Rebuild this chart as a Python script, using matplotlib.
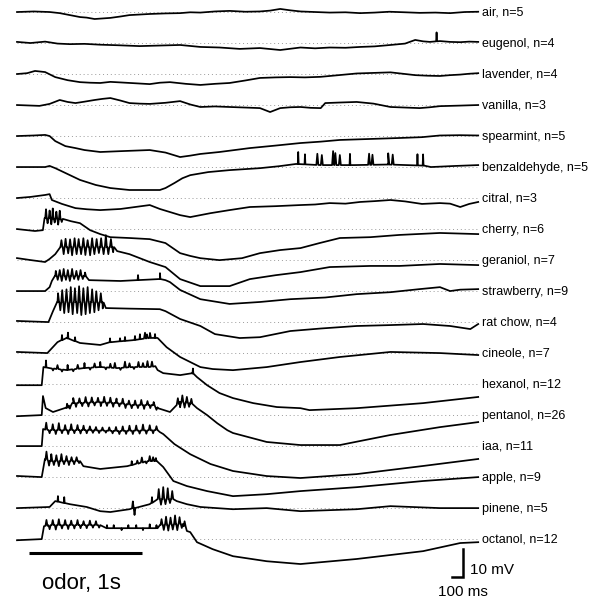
import numpy as np
import matplotlib
matplotlib.use('Agg')
import matplotlib.pyplot as plt

plt.rcParams['font.family'] = ['Liberation Sans', 'DejaVu Sans']

# odors, top to bottom, and number of cells averaged for each
odors = ['air', 'eugenol', 'lavender', 'vanilla', 'spearmint', 'benzaldehyde',
         'citral', 'cherry', 'geraniol', 'strawberry', 'rat chow', 'cineole',
         'hexanol', 'pentanol', 'iaa', 'apple', 'pinene', 'octanol']
n_cells = [5, 4, 4, 3, 5, 5, 3, 6, 7, 9, 4, 7, 12, 26, 11, 9, 5, 12]

# slow potential of each averaged trace: time (ms) and mV from rest
air_t = [0, 150, 290, 380, 470, 560, 620, 690, 760, 830, 920, 1000, 1090, 1180, 1320, 1450, 1540, 1630, 1760,
         1890, 2030, 2160, 2250, 2340, 2430, 2520, 2650, 2780, 2920, 3050, 3180, 3310, 3450, 3580, 3720, 3850, 3980, 4100]
air_v = [0, 0.2, 0, -0.4, -1.1, -1.8, -2.0, -2.5, -2.3, -2.1, -1.6, -1.1, -0.9, -0.7, -0.5, -0.4, -0.1, -0.2, 0.2,
         0.4, 0.1, 0.2, 0.5, 1.1, 0.6, 0.2, 0.0, -0.2, -0.1, -0.4, -0.2, 0.1, -0.1, -0.3, -0.2, -0.4, 0.0, 0.1]

eugenol_t = [0, 120, 250, 360, 470, 600, 740, 900, 1090, 1270, 1450, 1630, 1800, 1980, 2160, 2340, 2520, 2650,
             2780, 2920, 3050, 3180, 3320, 3450, 3540, 3610, 3670, 3760, 3850, 3940, 4020, 4100]
eugenol_v = [0.4, 0, 0.5, -0.2, -0.4, -0.3, -0.6, -0.8, -1.1, -0.9, -0.7, -1.4, -1.6, -2.1, -1.8, -2.5, -1.6, -1.9,
             -1.6, -1.7, -1.4, -1.2, -0.7, -0.2, 1.1, 0.6, 0.4, 0.7, 0.4, 0.3, 0.5, 0.4]

lavender_t = [0, 90, 160, 250, 340, 450, 560, 650, 740, 830, 920, 1050, 1180, 1270, 1360, 1500, 1630, 1760, 1890,
              2030, 2160, 2300, 2430, 2560, 2700, 2860, 3020, 3170, 3320, 3430, 3540, 3650, 3760, 3850, 3940, 4020, 4100]
lavender_v = [0, 0.3, 1.1, 0.7, -1.1, -2.2, -2.9, -3.1, -3.2, -2.8, -3.0, -3.3, -3.6, -3.1, -2.9, -3.5, -3.9, -3.5,
              -3.2, -2.3, -1.4, -1.2, -1.1, -1.2, -1.0, -0.4, 0.2, 0.4, 0.6, 0.1, -0.4, -0.6, -0.7, -0.4, -0.2, 0.1, 0.3]

vanilla_t = [0, 200, 290, 380, 450, 520, 600, 690, 760, 830, 920, 1000, 1090, 1180, 1320, 1450, 1540, 1630, 1760,
             1890, 2030, 2160, 2250, 2340, 2430, 2520, 2610, 2700, 2740, 2870, 3020, 3170, 3320, 3450, 3580, 3670,
             3760, 3940, 4100]
vanilla_v = [0, -0.3, 0.4, 1.8, 1.1, 0.7, 1.2, 1.8, 2.2, 2.5, 1.6, 0.7, 0.5, 0.4, 0.8, 1.4, 0.2, -0.7, -0.5,
             -0.7, -0.9, -1.1, -2.5, -1.1, -0.8, -0.7, -1.0, -1.1, 0.7, 0.9, 1.1, 0.5, -0.7, -0.9, -1.1, -0.8,
             -0.4, -0.2, 0]

spearmint_t = [0, 150, 250, 290, 340, 430, 520, 600, 740, 920, 1050, 1180, 1320, 1450, 1540, 1630, 1800, 2070,
               2300, 2520, 2700, 2870, 3100, 3400, 3600, 3760, 3940, 4100]
spearmint_v = [0, 0.2, 0.4, 0, -1.8, -3.6, -4.3, -5, -5.7, -5.4, -5.2, -5, -5.9, -7.5, -7.0, -6.4, -5.7, -4.3,
               -3.4, -2.5, -2.0, -1.4, -1.1, -0.7, -0.4, 0.2, 0.3, 0.2]

benzaldehyde_t = [0, 250, 290, 340, 450, 560, 700, 830, 1000, 1130, 1270, 1320, 1400, 1470, 1540, 1700, 1890,
                  2160, 2330, 2480, 2700, 3000, 3300, 3620, 3680, 3900, 4100]
benzaldehyde_v = [0, 0, 0.4, -0.4, -2.5, -4.6, -6.4, -7.5, -8.2, -8.2, -8.2, -7.5, -5.7, -4.0, -2.9, -1.8, -1.1,
                  -0.4, 0.3, 1.1, 0.7, 0.7, 0.9, 0.5, 0.0, 0.4, 0.7]

citral_t = [0, 120, 250, 290, 310, 400, 520, 620, 740, 830, 920, 1050, 1180, 1270, 1360, 1450, 1540, 1720, 1890,
            2070, 2300, 2520, 2650, 2780, 2920, 3050, 3180, 3320, 3450, 3600, 3760, 3850, 3940, 4020, 4100]
citral_v = [0, 0.4, 1.1, 1.4, -0.7, -2.1, -3.6, -4.0, -4.3, -4.1, -3.9, -3.2, -2.5, -3.9, -5, -6.1, -6.8, -5.4,
            -4.3, -3.2, -2.9, -2.5, -2.3, -1.8, -2.0, -1.4, -1.1, -0.7, -1.2, -2.1, -1.8, -2.0, -3.2, -2.1, -1.4]

cherry_t = [0, 160, 230, 245, 410, 480, 560, 650, 740, 830, 1000, 1180, 1320, 1450, 1540, 1630, 1800, 2000, 2160,
            2340, 2520, 2690, 2870, 3140, 3400, 3760, 4100]
cherry_v = [0, -0.7, -0.4, 3.9, 3.6, 2.8, 2.1, -0.4, -1.8, -2.9, -3.2, -3.6, -5, -8.6, -9.6, -10.4, -11.1, -10.4,
            -8.6, -7.5, -6.8, -5, -3.2, -2.9, -2.1, -1.4, -1.8]

geraniol_t = [0, 120, 250, 290, 340, 385, 600, 860, 890, 1000, 1180, 1320, 1450, 1630, 1890, 2070, 2300, 2520,
              2780, 3140, 3400, 3760, 4100]
geraniol_v = [0.7, 0, -0.7, 0.4, 2.1, 4.6, 4.6, 4.6, 3.2, 2.1, -0.7, -2.5, -6.8, -9.3, -9.3, -6.8, -5.4, -4.3,
              -2.5, -2.1, -2.1, -1.4, -1.8]

strawberry_t = [0, 250, 290, 310, 340, 600, 640, 920, 1270, 1320, 1360, 1450, 1630, 1890, 2160, 2430, 2740, 3020,
                3320, 3580, 3760, 3850, 3940, 4100]
strawberry_v = [0, 0, 1.4, 3.6, 5.4, 5.4, 3.9, 3.6, 4.3, 3.9, 3.2, 0.4, -2.9, -4.6, -3.9, -2.9, -2.3, -1.1,
                -0.4, 0.7, 1.4, 0, 0.5, 0.7]

ratchow_t = [0, 280, 320, 360, 760, 790, 1000, 1270, 1320, 1450, 1630, 1760, 1980, 2160, 2430, 2700, 3020, 3300,
             3610, 3850, 4030, 4100]
ratchow_v = [0.4, 0, 3.9, 7.1, 7.1, 5, 4.8, 4.6, 3.9, 1.1, -1.4, -4.3, -5.7, -5.4, -3.2, -2.3, -1.4, -1.1,
             -0.7, -1.4, -2.5, -0.7]

cineole_t = [0, 270, 360, 440, 560, 740, 830, 1030, 1180, 1250, 1330, 1450, 1630, 1740, 1920, 2220, 2520, 2870,
             3320, 3760, 4100]
cineole_v = [0.4, 0, 3.9, 5.4, 3.6, 2.9, 3.9, 4.6, 5.4, 5.4, 2.1, -1.4, -5, -5.7, -6.1, -5, -3.2, -1.4, 0.4, 0, -0.7]

hexanol_t = [0, 220, 235, 290, 440, 590, 740, 890, 1030, 1180, 1230, 1250, 1300, 1450, 1560, 1600, 1690, 1800,
             1920, 2100, 2310, 2520, 2600, 3020, 3610, 4100]
hexanol_v = [-0.4, -0.4, 6.1, 5.7, 5, 5.7, 6.1, 5.7, 6.1, 6.1, 6.4, 5, 3.9, 3.2, 3.9, 2.5, -0.4, -3.2, -5, -6.8,
             -8.2, -8.6, -9.3, -8.6, -6.8, -4.6]

pentanol_t = [0, 220, 231, 255, 320, 440, 500, 740, 890, 1030, 1210, 1250, 1360, 1420, 1450, 1540, 1600, 1690,
              1780, 1870, 1920, 2220, 2520, 2870, 3320, 3760, 4100]
pentanol_v = [-0.4, 0, 6.8, 2.5, 1.1, 2.5, 4.3, 4.6, 4.3, 3.6, 3.6, 2.5, 1.1, 3.6, 4.6, 4.3, 2.5, 0, -2.9, -5.4,
              -6.4, -9.6, -10.7, -10.7, -7.1, -4.3, -2.5]

iaa_t = [0, 220, 232, 280, 600, 900, 1250, 1270, 1300, 1400, 1540, 1720, 1920, 2220, 2520, 3020, 3610, 4100]
iaa_v = [0, 0, 6.1, 5.7, 5.7, 5.4, 5.7, 5, 4.3, 0.7, -2.9, -6.4, -8.9, -10.7, -11.4, -10, -7.1, -4.6]

apple_t = [0, 220, 248, 300, 560, 590, 740, 980, 1160, 1240, 1300, 1390, 1510, 1690, 1920, 2220, 2520, 3020,
           3610, 4100]
apple_v = [0.4, 0, 6.4, 5.7, 5.7, 3.9, 2.9, 3.9, 5.7, 5.7, 3.6, -1.4, -3.2, -5, -6.8, -6.1, -5, -3.6, -1.4, 0]

pinene_t = [0, 290, 340, 470, 620, 740, 830, 1000, 1180, 1250, 1390, 1420, 1510, 1630, 1920, 2220, 2520, 3020,
            3320, 3760, 4100]
pinene_v = [0, 0.4, 2.5, 1.4, 0.4, -1.1, -1.4, -0.4, 1.4, 3.2, 3.2, 2.5, 1.4, 0.4, -0.4, 0, -1.1, -0.4, 0.7, 0, 0]

octanol_t = [0, 220, 240, 300, 740, 800, 1250, 1270, 1480, 1510, 1540, 1600, 1740, 1920, 2220, 2520, 3020, 3610,
             3940, 4100]
octanol_v = [-0.4, 0, 4.6, 5, 5, 3.9, 3.9, 5, 5.4, 2.9, 2.5, -1.1, -3.6, -6.1, -7.9, -8.9, -7.1, -4.3, -1.4, -1.1]

# fast events riding on the slow potential: time (ms) and height (mV)
eugenol_spk_t = [3730]
eugenol_spk_a = [3.2]

benzaldehyde_spk_t = [2500, 2560, 2670, 2710, 2810, 2830, 2870, 2960, 3130, 3160, 3300, 3340, 3560, 3610]
benzaldehyde_spk_a = [4.3, 3.6, 4.0, 3.6, 5.0, 4.3, 3.6, 4.0, 4.0, 3.6, 4.0, 3.6, 4.0, 4.0]

cherry_spk_t = [258, 272, 290, 305, 318, 335, 350, 366, 380, 398]
cherry_spk_a = [3.2, -1.8, 2.8, -2.1, 3.6, -1.4, 2.5, -2.1, 2.9, -1.1]

geraniol_spk_t = [395, 415, 432, 455, 472, 490, 512, 530, 548, 570, 590, 608, 628, 650, 668, 688, 708, 728, 748,
                  770, 790, 812, 835, 855]
geraniol_spk_a = [2.5, -2.5, 3.0, -2.2, 2.8, -2.9, 3.2, -2.5, 2.9, -2.5, 3.2, -2.8, 2.5, -2.9, 3.2, -2.5, 2.9,
                  -2.1, 3.2, -2.5, 4.3, -2.5, 2.9, -1.8]

strawberry_spk_t = [345, 362, 380, 398, 415, 435, 452, 470, 490, 508, 528, 545, 565, 585, 605, 1076, 1271]
strawberry_spk_a = [1.8, -1.4, 2.1, -1.8, 2.5, -1.4, 2.1, -1.8, 2.5, -1.1, 1.8, -1.4, 2.1, -1.1, 1.4, 1.8, 2.1]

ratchow_spk_t = [365, 385, 402, 420, 440, 458, 478, 495, 515, 535, 552, 572, 590, 610, 628, 648, 668, 688, 705,
                 725, 745, 762]
ratchow_spk_a = [3.2, -2.9, 4.3, -3.9, 4.6, -3.6, 5.4, -4.3, 5.0, -3.9, 5.7, -4.6, 5.0, -4.3, 5.4, -3.9, 4.6,
                 -3.6, 3.9, -2.9, 3.2, -2.1]

cineole_spk_t = [400, 453, 516, 827, 916, 960, 1049, 1093, 1138, 1156, 1182, 1227]
cineole_spk_a = [1.8, 2.1, 1.4, 1.4, 1.1, 1.4, 1.4, 1.8, 2.1, 1.4, 1.8, 1.4]

hexanol_spk_t = [258, 320, 360, 400, 450, 500, 540, 600, 650, 690, 740, 790, 830, 870, 920, 960, 1000, 1040,
                 1080, 1120, 1160, 1200, 1564]
hexanol_spk_a = [2.5, -0.7, 1.4, -0.7, 1.8, -0.7, 1.4, 1.8, -0.7, 1.4, 1.8, -0.7, 1.4, 1.8, -0.7, 2.1, 1.4,
                 -0.7, 1.8, 1.4, 2.1, 1.8, 1.8]

pentanol_spk_t = [445, 470, 500, 525, 555, 580, 610, 635, 665, 690, 720, 745, 775, 800, 830, 855, 885, 910, 940,
                  965, 995, 1020, 1050, 1075, 1105, 1130, 1160, 1185, 1215, 1240,
                  1430, 1450, 1470, 1490, 1510, 1530, 1550]
pentanol_spk_a = [1.4, -1.1, 1.8, -1.4, 1.6, -1.2, 2.0, -1.4, 1.8, -1.1, 1.6, -1.4, 2.0, -1.2, 1.8, -1.4, 1.6,
                  -1.1, 1.8, -1.4, 1.4, -1.2, 1.6, -1.1, 1.8, -1.4, 1.4, -1.1, 1.2, -0.9,
                  2.1, -1.8, 2.5, -1.8, 2.1, -1.4, 1.8]

iaa_spk_t = [260, 290, 318, 345, 372, 400, 428, 455, 482, 510, 538, 565, 592, 620, 648, 675, 702, 730, 760, 790,
             820, 850, 880, 910, 940, 970, 1000, 1030, 1060, 1090, 1120, 1150, 1180, 1210, 1240]
iaa_spk_a = [2.5, -1.1, 2.1, -1.4, 2.5, -1.1, 1.8, -1.4, 2.1, -1.1, 1.8, -1.2, 1.6, -1.1, 1.4, -0.9, 1.2, -0.9,
             1.1, -0.7, 1.2, -0.9, 1.4, -1.1, 1.6, -1.1, 1.8, -1.2, 1.8, -1.1, 2.1, -1.2, 1.8, -1.1, 1.4]

apple_spk_t = [262, 285, 305, 328, 350, 372, 395, 418, 440, 462, 485, 508, 530, 552,
               1020, 1070, 1110, 1150, 1180, 1210, 1235]
apple_spk_a = [2.9, -1.8, 2.5, -1.4, 2.1, -1.8, 2.5, -1.1, 1.8, -1.4, 1.4, -1.1, 1.4, -0.7,
               1.4, 1.1, 1.8, -0.7, 1.8, 1.4, 1.1]

pinene_spk_t = [364, 420, 1030, 1045, 1200, 1260, 1280, 1300, 1320, 1340, 1360, 1380]
pinene_spk_a = [2.0, 2.1, 2.5, -2.5, 2.0, 3.6, -2.0, 4.3, -1.8, 3.9, -1.4, 2.9]

octanol_spk_t = [262, 290, 318, 345, 372, 400, 428, 455, 482, 510, 538, 565, 592, 620, 648, 675, 702, 730,
                 800, 860, 930, 990, 1060, 1120, 1180, 1240,
                 1285, 1305, 1325, 1345, 1365, 1385, 1405, 1425, 1445, 1465, 1490]
octanol_spk_a = [2.1, -1.4, 1.8, -1.6, 2.1, -1.2, 1.8, -1.4, 1.6, -1.2, 1.8, -1.1, 1.4, -1.1, 1.6, -0.9, 1.4, -0.9,
                 1.1, 1.1, -0.7, 1.1, 1.1, -0.7, 1.4, 1.1,
                 2.1, -1.8, 2.9, -2.1, 2.5, -1.8, 3.2, -2.1, 2.5, -1.4, 1.8]

traces = {
    'air': (air_t, air_v, [], []),
    'eugenol': (eugenol_t, eugenol_v, eugenol_spk_t, eugenol_spk_a),
    'lavender': (lavender_t, lavender_v, [], []),
    'vanilla': (vanilla_t, vanilla_v, [], []),
    'spearmint': (spearmint_t, spearmint_v, [], []),
    'benzaldehyde': (benzaldehyde_t, benzaldehyde_v, benzaldehyde_spk_t, benzaldehyde_spk_a),
    'citral': (citral_t, citral_v, [], []),
    'cherry': (cherry_t, cherry_v, cherry_spk_t, cherry_spk_a),
    'geraniol': (geraniol_t, geraniol_v, geraniol_spk_t, geraniol_spk_a),
    'strawberry': (strawberry_t, strawberry_v, strawberry_spk_t, strawberry_spk_a),
    'rat chow': (ratchow_t, ratchow_v, ratchow_spk_t, ratchow_spk_a),
    'cineole': (cineole_t, cineole_v, cineole_spk_t, cineole_spk_a),
    'hexanol': (hexanol_t, hexanol_v, hexanol_spk_t, hexanol_spk_a),
    'pentanol': (pentanol_t, pentanol_v, pentanol_spk_t, pentanol_spk_a),
    'iaa': (iaa_t, iaa_v, iaa_spk_t, iaa_spk_a),
    'apple': (apple_t, apple_v, apple_spk_t, apple_spk_a),
    'pinene': (pinene_t, pinene_v, pinene_spk_t, pinene_spk_a),
    'octanol': (octanol_t, octanol_v, octanol_spk_t, octanol_spk_a),
}

odor_on, odor_off = 107, 1107   # ms
T_END = 4100
SPACING = 31 / 2.8              # mV between stacked traces


def with_spikes(t, v, spk_t, spk_a):
    # put each fast event on top of the slow trace as a narrow peak;
    # events packed close together join up into a zigzag
    pts = list(zip(t, v))
    st = np.asarray(spk_t, dtype=float)
    for ts, a in zip(st, spk_a):
        gaps = np.abs(st - ts)
        gaps = gaps[gaps > 0]
        half = 4.0
        if gaps.size and gaps.min() <= 40:
            half = min(9.0, gaps.min() / 2)
        foot = np.interp(ts, t, v)
        pts += [(ts - half, foot), (ts, foot + a), (ts + half, foot)]
    pts.sort(key=lambda p: p[0])
    return [p[0] for p in pts], [p[1] for p in pts]


fig = plt.figure(figsize=(5.97, 5.99), dpi=100)
ax = fig.add_axes([0, 0, 1, 1])
ax.set_xlim(-151, 5156)
ax.set_ylim(-209.6, 4.29)
ax.axis('off')

for i, (name, n) in enumerate(zip(odors, n_cells)):
    off = -i * SPACING
    t, v, st, sa = traces[name]
    tt, vv = with_spikes(t, v, st, sa)
    ax.plot([0, T_END], [off, off], color='#9a9a9a', lw=0.7, ls=(0, (1, 3)), zorder=1)
    ax.plot(tt, np.array(vv) + off, color='black', lw=1.25, zorder=2)
    ax.text(4135, off - 0.3, f'{name}, n={n}', fontsize=9, va='center', ha='left')

# odor bar
bar_y = -193.2
ax.plot([odor_on, odor_off], [bar_y, bar_y], color='black', lw=2.2, solid_capstyle='butt')
ax.text((odor_on + odor_off) / 2 - 30, -204.0, 'odor, 1s', fontsize=16, ha='center', va='center')

# scale bar: 10 mV, 100 ms
sx, sy = 3964, -201.8
ax.plot([sx - 100, sx, sx], [sy, sy, sy + 10], color='black', lw=1.8, solid_joinstyle='miter')
ax.text(sx + 60, sy + 2.6, '10 mV', fontsize=11, ha='left', va='center')
ax.text(sx, -207.2, '100 ms', fontsize=11, ha='center', va='center')

fig.savefig('out.png', dpi=100)
